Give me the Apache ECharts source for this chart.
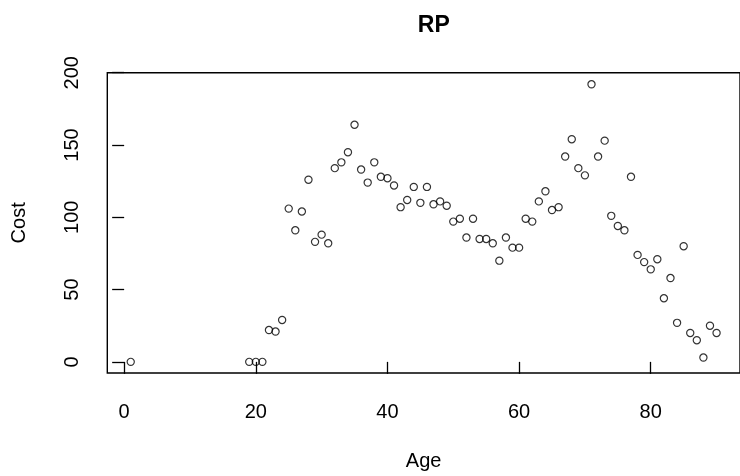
<!DOCTYPE html>
<html>
<head>
<meta charset="utf-8">
<script src="https://cdn.jsdelivr.net/npm/echarts@6/dist/echarts.min.js"></script>
<style>
html,body{margin:0;padding:0;background:#fff;}
#chart{width:740px;height:476px;}
</style>
</head>
<body>
<div id="chart"></div>
<script>
var titleText = "RP";
var xName = "Age";
var yName = "Cost";
var ages = [1,19,20,21,22,23,24,25,26,27,28,29,30,31,32,33,34,35,36,37,38,39,40,41,42,43,44,45,46,47,48,49,50,51,52,53,54,55,56,57,58,59,60,61,62,63,64,65,66,67,68,69,70,71,72,73,74,75,76,77,78,79,80,81,82,83,84,85,86,87,88,89,90];
var costs = [0,0,0,0,22,21,29,106,91,104,126,83,88,82,134,138,145,164,133,124,138,128,127,122,107,112,121,110,121,109,111,108,97,99,86,99,85,85,82,70,86,79,79,99,97,111,118,105,107,142,154,134,129,192,142,153,101,94,91,128,74,69,64,71,44,58,27,80,20,15,3,25,20];
var xTicks = [0,20,40,60,80];
var yTicks = [0,50,100,150,200];

var points = ages.map(function(a,i){ return [a, costs[i]]; });
var font = "'Liberation Sans', Arial, sans-serif";

var chart = echarts.init(document.getElementById('chart'), null, {renderer:'canvas'});
chart.setOption({
  animation: false,
  backgroundColor: '#fff',
  title: {
    text: titleText,
    left: 428.8,
    top: 9,
    textAlign: 'center',
    textStyle: {fontFamily: font, fontSize: 23, fontWeight: 'bold', color: '#000'}
  },
  grid: {
    left: 107.3,
    top: 72.7,
    width: 643.2,
    height: 301.6,
    show: true,
    borderColor: '#000',
    borderWidth: 1.4,
    backgroundColor: 'transparent'
  },
  xAxis: {
    type: 'value',
    min: -2.56,
    max: 93.56,
    name: xName,
    nameLocation: 'middle',
    nameGap: 78,
    nameTextStyle: {fontFamily: font, fontSize: 20, color: '#000', lineHeight: 20},
    axisLine: {show: false},
    axisTick: {show: true, customValues: xTicks, length: 12, lineStyle: {color: '#000', width: 1.3}},
    axisLabel: {customValues: xTicks, margin: 29, fontFamily: font, fontSize: 20, lineHeight: 20, color: '#000'},
    splitLine: {show: false}
  },
  yAxis: {
    type: 'value',
    min: -7.7,
    max: 200,
    name: yName,
    nameLocation: 'middle',
    nameGap: 78,
    nameRotate: 90,
    nameTextStyle: {fontFamily: font, fontSize: 20, color: '#000', lineHeight: 20},
    axisLine: {show: false},
    axisTick: {show: true, customValues: yTicks, length: 12, lineStyle: {color: '#000', width: 1.3}},
    axisLabel: {customValues: yTicks, rotate: 90, margin: 25, fontFamily: font, fontSize: 20, lineHeight: 20, color: '#000'},
    splitLine: {show: false}
  },
  series: [{
    type: 'scatter',
    data: points,
    symbol: 'circle',
    symbolSize: 7.2,
    itemStyle: {color: 'rgba(0,0,0,0)', borderColor: '#000', borderWidth: 1.2},
    emphasis: {disabled: true}
  }]
});
</script>
</body>
</html>
